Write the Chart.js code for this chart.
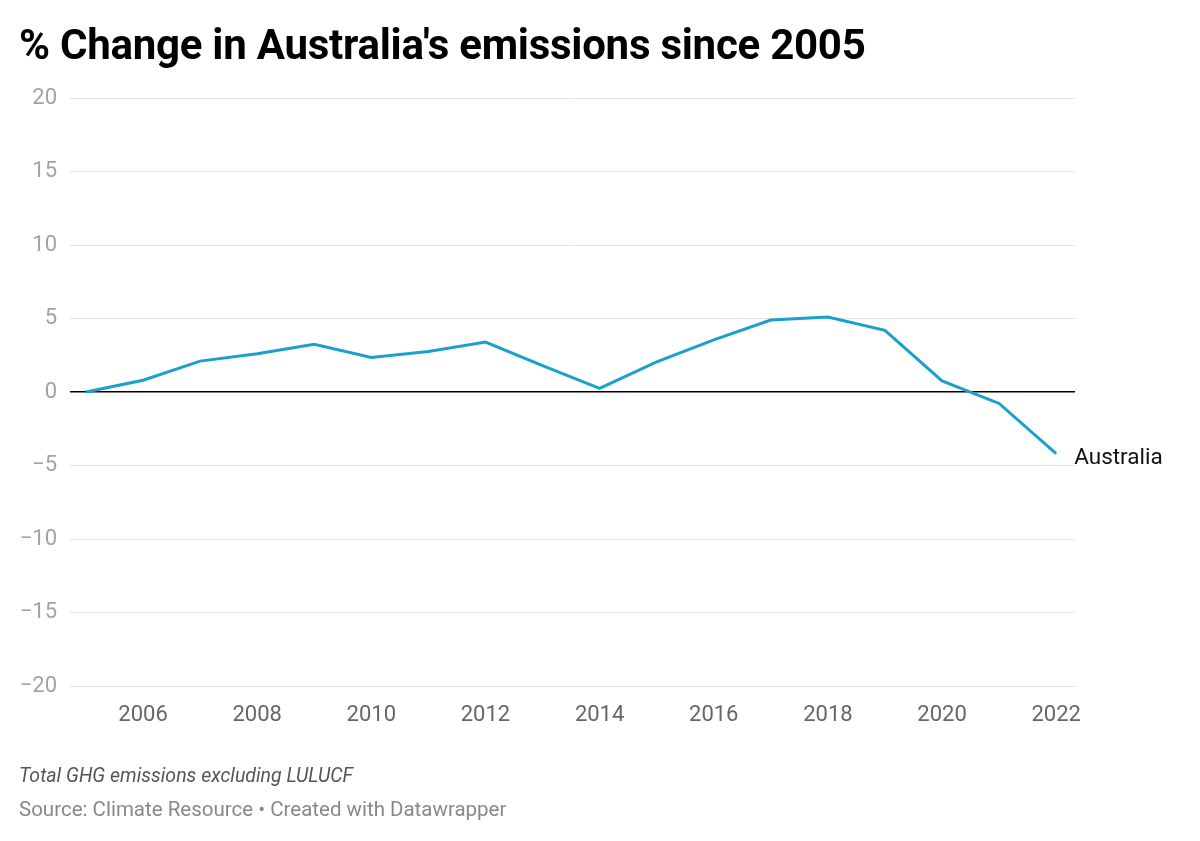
<!DOCTYPE html>
<html>
<head>
<meta charset="utf-8">
<script src="https://cdn.jsdelivr.net/npm/chart.js@4"></script>
<style>
  html, body { margin: 0; padding: 0; background: #fff; }
  body { width: 1200px; height: 841px; position: relative; overflow: hidden; font-family: Roboto, sans-serif; }
  #wrap { position: absolute; left: 0; top: 0; width: 1200px; height: 841px; }
  h1 { position: absolute; left: 19px; top: 20px; margin: 0; font-size: 42px; font-weight: 700; color: #000; letter-spacing: -0.25px; }
  .note { position: absolute; left: 19px; top: 764px; font-size: 19.5px; font-style: italic; color: #555; }
  .source { position: absolute; left: 19px; top: 797px; font-size: 20.5px; color: #888; }
</style>
</head>
<body>
<div id="wrap"><canvas id="chart"></canvas></div>
<h1>% Change in Australia's emissions since 2005</h1>
<div class="note">Total GHG emissions excluding LULUCF</div>
<div class="source">Source: Climate Resource • Created with Datawrapper</div>
<script>
// valori
const years = [2005, 2006, 2007, 2008, 2009, 2010, 2011, 2012, 2013, 2014, 2015, 2016, 2017, 2018, 2019, 2020, 2021, 2022];
const australia = [0, 0.8, 2.1, 2.6, 3.25, 2.35, 2.75, 3.4, 1.8, 0.25, 2.05, 3.55, 4.9, 5.1, 4.2, 0.75, -0.78, -4.2];
const xTicks = [2006, 2008, 2010, 2012, 2014, 2016, 2018, 2020, 2022];
const yTicks = [-20, -15, -10, -5, 0, 5, 10, 15, 20];
const seriesName = 'Australia';

// etichetta alla fine della linea
const endLabel = {
    id: 'endLabel',
    afterDatasetsDraw(chart) {
        const meta = chart.getDatasetMeta(0);
        const last = meta.data[meta.data.length - 1];
        const ctx = chart.ctx;
        ctx.save();
        ctx.font = '22.5px Roboto';
        ctx.fillStyle = '#111';
        ctx.textBaseline = 'middle';
        ctx.fillText(seriesName, last.x + 18, last.y + 5);
        ctx.restore();
    }
};

const ctx = document.getElementById("chart").getContext("2d");
new Chart(ctx, {
    type: 'line',
    data: {
        datasets: [{
            label: seriesName,
            data: years.map((y, i) => ({ x: y, y: australia[i] })),
            borderColor: '#1aa0cc',
            borderWidth: 3,
            pointRadius: 0,
            fill: false,
            tension: 0
        }]
    },
    options: {
        responsive: true,
        maintainAspectRatio: false,
        animation: false,
        layout: { padding: { left: 0, right: 125, top: 98, bottom: 105 } },
        plugins: {
            legend: { display: false },
            tooltip: { enabled: false }
        },
        scales: {
            x: {
                type: 'linear',
                min: 2004.72,
                max: 2022.33,
                afterBuildTicks: (s) => { s.ticks = xTicks.map(v => ({ value: v })); },
                afterFit: (s) => { s.height = 50; },
                grid: { display: false },
                border: { display: false },
                ticks: {
                    padding: 8,
                    color: '#666',
                    font: { family: 'Roboto', size: 22 },
                    callback: (v) => String(v)
                }
            },
            y: {
                min: -20,
                max: 20,
                afterBuildTicks: (s) => { s.ticks = yTicks.map(v => ({ value: v })); },
                afterFit: (s) => { s.width = 70; },
                border: { display: false },
                grid: {
                    drawTicks: false,
                    color: (c) => c.tick && c.tick.value === 0 ? '#000' : '#e2e2e2',
                    lineWidth: (c) => c.tick && c.tick.value === 0 ? 1.5 : 1
                },
                ticks: {
                    padding: 13,
                    color: '#a3a3a3',
                    font: { family: 'Roboto', size: 22 },
                    callback: (v) => String(v).replace('-', '\u2212')
                }
            }
        }
    },
    plugins: [endLabel]
});
</script>
</body>
</html>
